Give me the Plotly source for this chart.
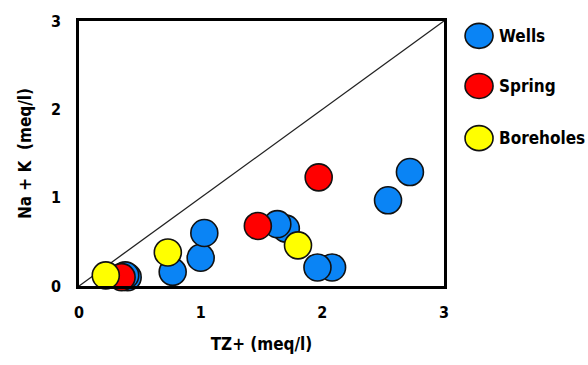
import plotly.graph_objects as go

# Data
wells_x = [0.40, 0.38, 0.77, 1.00, 1.03, 1.70, 1.63, 2.08, 1.96, 2.54, 2.72]
wells_y = [0.10, 0.12, 0.16, 0.32, 0.60, 0.65, 0.70, 0.21, 0.21, 0.97, 1.29]
spring_x = [0.35, 1.47, 1.97]
spring_y = [0.10, 0.68, 1.23]
bore_x = [0.22, 0.73, 1.80]
bore_y = [0.12, 0.38, 0.46]
line_x = [0, 3]
line_y = [0, 3]
tick_vals = [0, 1, 2, 3]
tick_text = ["0", "1", "2", "3"]

series = [
    ("Wells", wells_x, wells_y, "#0a84f5"),
    ("Spring", spring_x, spring_y, "#ff0000"),
    ("Boreholes", bore_x, bore_y, "#ffff00"),
]

FONT = "DejaVu Sans Condensed"

fig = go.Figure()
fig.add_trace(go.Scatter(x=line_x, y=line_y, mode="lines",
                         line=dict(color="#222222", width=1.3),
                         showlegend=False, hoverinfo="skip"))
for name, xs, ys, col in series:
    fig.add_trace(go.Scatter(x=xs, y=ys, mode="markers", name=name,
                             marker=dict(size=27, color=col,
                                         line=dict(color="#111111", width=1.6)),
                             showlegend=False, cliponaxis=False))

# Manual legend with large circles
legend_y = [0.944, 0.755, 0.558]
for (name, xs, ys, col), ly in zip(series, legend_y):
    fig.add_shape(type="circle", xref="paper", yref="paper",
                  xsizemode="pixel", ysizemode="pixel",
                  xanchor=1.096, yanchor=ly,
                  x0=-14, x1=14, y0=-12.5, y1=12.5,
                  fillcolor=col, line=dict(color="#111111", width=1.6))
    fig.add_annotation(x=1.145, y=ly, xref="paper", yref="paper",
                       text="<b>%s</b>" % name, showarrow=False,
                       xanchor="left", yanchor="middle",
                       font=dict(family=FONT, size=17, color="black"))

axis_common = dict(range=[0, 3], tickvals=tick_vals, ticktext=tick_text,
                   showgrid=False, zeroline=False, showline=True,
                   linecolor="black", linewidth=2.5, mirror=True,
                   ticks="", tickfont=dict(family=FONT, size=16, color="black", weight="bold"))

fig.update_xaxes(**axis_common, ticklabelstandoff=10,
                 title=dict(text="<b>TZ+ (meq/l)</b>", standoff=18,
                            font=dict(family=FONT, size=17, color="black")))
fig.update_yaxes(**axis_common, ticklabelstandoff=12,
                 title=dict(text="<b>Na + K  (meq/l)</b>", standoff=16,
                            font=dict(family=FONT, size=17, color="black")))

fig.update_layout(width=588, height=365,
                  margin=dict(l=79, r=144, t=17, b=79),
                  paper_bgcolor="white", plot_bgcolor="white",
                  showlegend=False)

fig.write_html("out.html")
